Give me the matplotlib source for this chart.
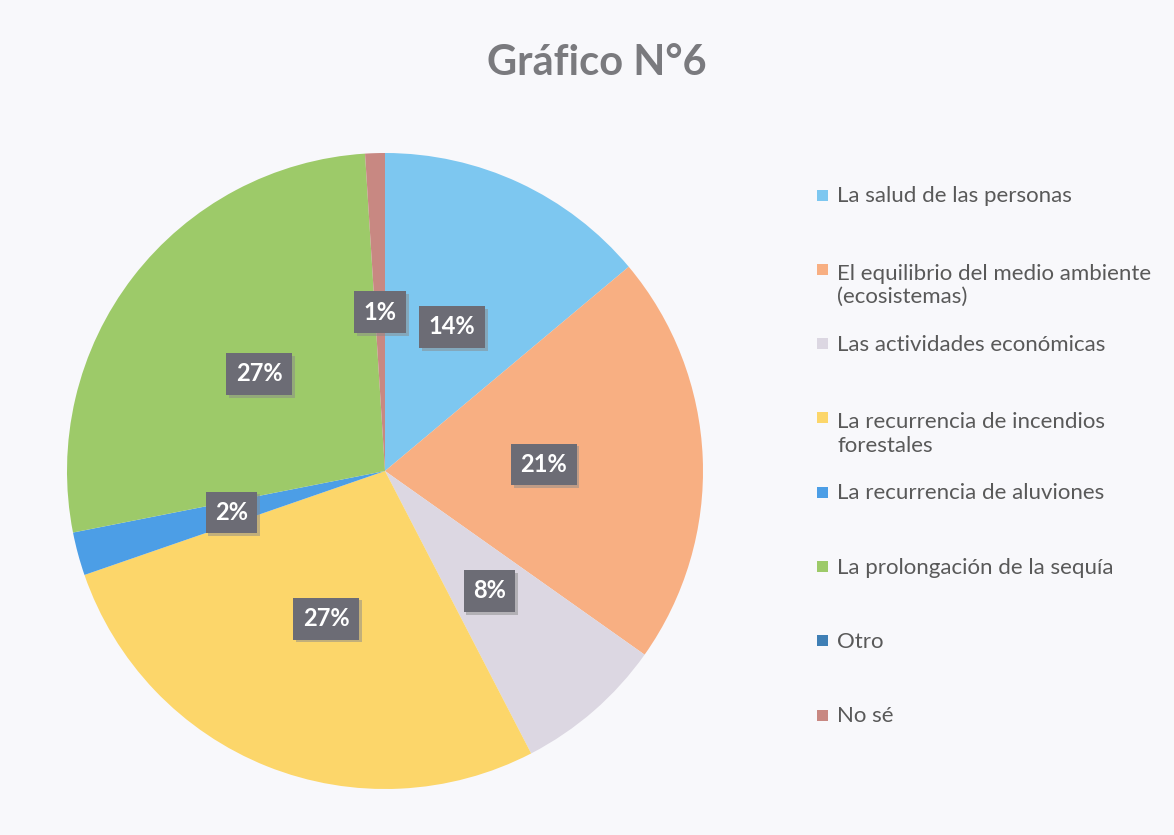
import numpy as np
import matplotlib.pyplot as plt
from matplotlib.patches import Rectangle
import matplotlib.patheffects as pe

plt.rcParams['font.family'] = ['Lato', 'DejaVu Sans']

# data (percent of answers)
categories = ['La salud de las personas',
              'El equilibrio del medio ambiente\n(ecosistemas)',
              'Las actividades económicas',
              'La recurrencia de incendios\nforestales',
              'La recurrencia de aluviones',
              'La prolongación de la sequía',
              'Otro',
              'No sé']
values = [13.9, 20.9, 7.6, 27.3, 2.2, 27.1, 0.0, 1.0]
colors = ['#7DC7F0', '#F8AF82', '#DCD7E2', '#FCD66A',
          '#4C9EE6', '#9DCA69', '#3F7FB5', '#C88882']

bg = '#F8F8FB'
W, H = 1174, 835
fig = plt.figure(figsize=(W / 100, H / 100), dpi=100, facecolor=bg)

# pie axes: centre ~ (385, 471) px, radius ~ 318 px
cx, cy, r = 385, 471, 318
ax = fig.add_axes([(cx - r) / W, 1 - (cy + r) / H, 2 * r / W, 2 * r / H])
ax.set_facecolor(bg)

vals = np.array(values)
shown = vals > 0
wedges, texts, autotexts = ax.pie(
    vals[shown], colors=np.array(colors)[shown], startangle=90,
    counterclock=False, radius=1.0,
    autopct=lambda p: f'{p:.0f}%', pctdistance=0.5,
    wedgeprops=dict(linewidth=0))
for t in autotexts:
    t.set_color('white')
    t.set_fontsize(17)
    t.set_fontweight('bold')
    t.set_bbox(dict(boxstyle='square,pad=0.4', facecolor='#6C6C75',
                    edgecolor='none'))
    t.get_bbox_patch().set_path_effects(
        [pe.SimplePatchShadow(offset=(2, -2), shadow_rgbFace='#8a8a8a', alpha=0.5),
         pe.Normal()])
ax.set_xlim(-1, 1)
ax.set_ylim(-1, 1)
ax.set_aspect('equal')
ax.axis('off')

fig.text(597 / W, 1 - 63 / H, 'Gráfico N°6', ha='center', va='center',
         fontsize=30, fontweight='bold', color='#7A7A7E')

# legend, drawn by hand to keep Excel-like even spacing of first lines
y0, step = 195, 74.3
fs = 16
line_h = 1.2 * fs * 100 / 72
for i, (lab, col) in enumerate(zip(categories, colors)):
    y = y0 + step * i
    fig.patches.append(Rectangle((817 / W, 1 - (y + 5.5) / H), 11 / W, 11 / H,
                                 transform=fig.transFigure, facecolor=col,
                                 edgecolor='none'))
    extra = (lab.count('\n')) * line_h
    fig.text(837 / W, 1 - (y + 7 + extra) / H, lab, ha='left', va='baseline',
             fontsize=fs, color='#595959', linespacing=1.2)

fig.savefig('out.png', dpi=100, facecolor=bg)
